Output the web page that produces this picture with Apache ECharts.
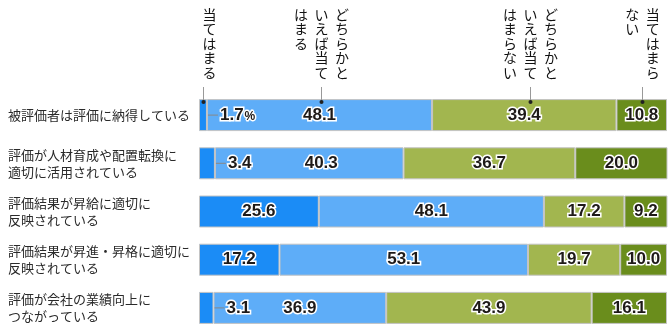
<!DOCTYPE html>
<html><head><meta charset="utf-8">
<script src="https://cdn.jsdelivr.net/npm/echarts@6/dist/echarts.min.js"></script>
<style>html,body{margin:0;padding:0;background:#fff}#c{width:670px;height:332px}</style>
</head><body><div id="c"></div>
<script>
// ---- data ----
const categories = [
  '被評価者は評価に納得している',
  '評価が人材育成や配置転換に\n適切に活用されている',
  '評価結果が昇給に適切に\n反映されている',
  '評価結果が昇進・昇格に適切に\n反映されている',
  '評価が会社の業績向上に\nつながっている'
];
const seriesNames = ['当てはまる', 'どちらかといえば当てはまる', 'どちらかといえば当てはまらない', '当てはまらない'];
const headerColumns = [
  ['当てはまる'],
  ['どちらかと', 'いえば当て', 'はまる'],
  ['どちらかと', 'いえば当て', 'はまらない'],
  ['当てはまら', 'ない']
];
const valApply = [1.7, 3.4, 25.6, 17.2, 3.1];
const valSomewhatApply = [48.1, 40.3, 48.1, 53.1, 36.9];
const valSomewhatNot = [39.4, 36.7, 17.2, 19.7, 43.9];
const valNot = [10.8, 20.0, 9.2, 10.0, 16.1];

// ---- styling ----
const values = [valApply, valSomewhatApply, valSomewhatNot, valNot];
const colors = ['#1b8cf6', '#5eadf8', '#a2b64f', '#6a8d1c'];
const SMALL = 5;
const labelShift = { '1-1': 12 };
const headerShift = [0, 1, 6, 0];

const valFont = 'Liberation Sans, Arial, sans-serif';
const baseLabel = {
  show: true,
  position: 'inside',
  fontFamily: valFont,
  fontWeight: 'bold',
  fontSize: 17,
  color: '#1e1a18',
  textBorderColor: '#fff',
  textBorderWidth: 3,
  rich: {
    v: { fontFamily: valFont, fontWeight: 'bold', fontSize: 17, color: '#1e1a18', textBorderColor: '#fff', textBorderWidth: 3 },
    p: { fontFamily: valFont, fontWeight: 'bold', fontSize: 12, color: '#1e1a18', textBorderColor: '#fff', textBorderWidth: 3, padding: [4, 0, 0, 1] }
  }
};

const series = values.map((arr, si) => ({
  name: seriesNames[si],
  type: 'bar',
  stack: 'all',
  z: si === 0 ? 4 : 2,
  barWidth: 32,
  itemStyle: { color: colors[si], borderColor: '#c4c4c4', borderWidth: 1 },
  label: baseLabel,
  emphasis: { disabled: true },
  data: arr.map((v, ri) => {
    const d = { value: v };
    if (v < SMALL) {
      d.label = {
        position: 'right', distance: 13,
        formatter: () => ri === 0 ? '{v|' + v.toFixed(1) + '}{p|%}' : '{v|' + v.toFixed(1) + '}'
      };
    } else {
      d.label = { formatter: () => v.toFixed(1) };
      const k = si + '-' + ri;
      if (labelShift[k]) d.label.offset = [labelShift[k], 0];
    }
    return d;
  })
}));

const chart = echarts.init(document.getElementById('c'), null, { renderer: 'canvas' });
chart.setOption({
  animation: false,
  grid: { left: 199, right: 3, top: 91, height: 244 },
  xAxis: { type: 'value', min: 0, max: 100, show: false },
  yAxis: {
    type: 'category', inverse: true, data: categories,
    axisLine: { show: false }, axisTick: { show: false },
    axisLabel: {
      align: 'left', margin: 191, fontSize: 13, lineHeight: 17, color: '#2a2a2a',
      fontFamily: 'Noto Sans CJK JP'
    }
  },
  series
});

// ---- annotations derived from data via the axes ----
const g = [];
// leader lines for small outside labels
values[0].forEach((v, ri) => {
  if (v < SMALL) {
    const p = chart.convertToPixel({ gridIndex: 0 }, [v, ri]);
    g.push({ type: 'line', shape: { x1: p[0] + 1, y1: p[1], x2: p[0] + 11, y2: p[1] }, style: { stroke: '#888', lineWidth: 1 }, z: 10 });
  }
});
// header labels for row 0
let cum = 0;
values.forEach((arr, si) => {
  const v = arr[0];
  const p = chart.convertToPixel({ gridIndex: 0 }, [cum + v / 2, 0]);
  cum += v;
  const x = Math.round(p[0] + headerShift[si]) + 0.5;
  const top = p[1] - 16;
  g.push({ type: 'line', shape: { x1: x, y1: 87, x2: x, y2: top + 3 }, style: { stroke: '#999', lineWidth: 1 }, z: 10 });
  g.push({ type: 'circle', shape: { cx: x, cy: top + 3, r: 2 }, style: { fill: '#222' }, z: 11 });
  const cols = headerColumns[si];
  const n = cols.length;
  cols.forEach((txt, ci) => {
    const cx = x + ((n - 1) / 2 - ci) * 20.5 + (n === 1 ? 6 : 0);
    g.push({
      type: 'text', x: cx, y: 7, z: 10,
      style: {
        text: txt.split('').join('\n'), align: 'center', verticalAlign: 'top',
        font: '14px "Noto Sans CJK JP"', lineHeight: 14.5, fill: '#111'
      }
    });
  });
});
chart.setOption({ graphic: g });
</script>
</body></html>
